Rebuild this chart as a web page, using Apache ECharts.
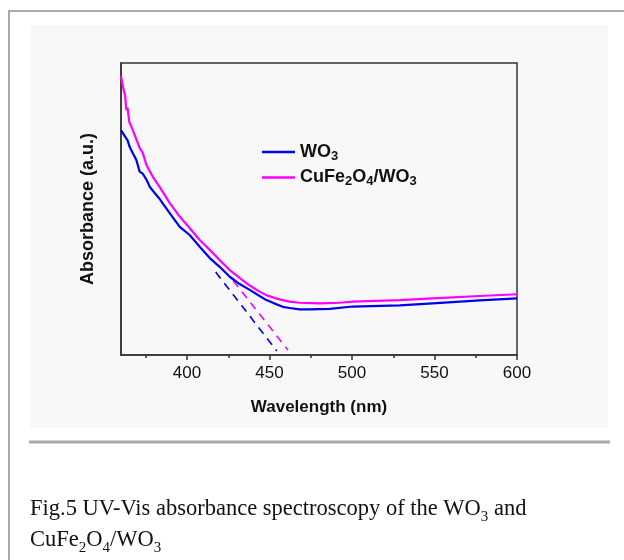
<!DOCTYPE html>
<html>
<head>
<meta charset="utf-8">
<script src="https://cdn.jsdelivr.net/npm/echarts@6/dist/echarts.min.js"></script>
<style>
  html, body { margin: 0; padding: 0; background: #ffffff; }
  #chart { width: 624px; height: 560px; }
</style>
</head>
<body>
<div id="chart"></div>
<script>
// UV-Vis absorbance spectra (arbitrary units) of WO3 and CuFe2O4/WO3
const wavelengthWO3 = [360, 361.2, 362.5, 364, 365.3, 367.1, 369.3, 371.3, 373.3, 375.6, 377.4, 380.4,
  383.5, 389.5, 395.6, 401.6, 407.7, 413.8, 419.8, 425.9, 431.9, 438, 444, 448.1, 453.2, 458,
  462.2, 468.3, 474.4, 480.4, 486.5, 500.4, 528.9, 548.9, 577.4, 600];
const absWO3 = [0.77, 0.765, 0.748, 0.735, 0.712, 0.692, 0.668, 0.628, 0.62, 0.599, 0.576, 0.555,
  0.534, 0.486, 0.439, 0.411, 0.371, 0.332, 0.302, 0.268, 0.243, 0.223, 0.202, 0.188, 0.176, 0.165,
  0.161, 0.156, 0.156, 0.157, 0.158, 0.166, 0.17, 0.177, 0.187, 0.194];

const wavelengthCF = [360, 361, 361.6, 362.5, 363.2, 364, 365, 365.9, 367.1, 368.3, 369.5, 371.3,
  373.2, 375.4, 377.4, 379.2, 383.5, 389.5, 395.6, 401.6, 407.7, 413.8, 419.8, 425.9, 431.9, 438,
  444, 448.1, 453.2, 458, 462.2, 468.3, 480.4, 492.5, 500.4, 528.9, 548.9, 577.4, 600];
const absCF = [0.955, 0.955, 0.908, 0.89, 0.839, 0.846, 0.798, 0.788, 0.771, 0.777, 0.736, 0.709,
  0.692, 0.651, 0.63, 0.611, 0.575, 0.521, 0.474, 0.435, 0.394, 0.36, 0.325, 0.291, 0.264, 0.238,
  0.217, 0.205, 0.195, 0.188, 0.183, 0.179, 0.177, 0.179, 0.183, 0.188, 0.194, 0.202, 0.208];

// linear extrapolations of the absorption edges
const edgeWO3X = [417.4, 454.4];
const edgeWO3Y = [0.284, 0.014];
const edgeCFX = [428, 461.2];
const edgeCFY = [0.254, 0.017];

const majorTicks = [400, 450, 500, 550, 600];
const minorTicks = [375, 425, 475, 525, 575];

const seriesNames = ['WO3', 'CuFe2O4/WO3'];

const zip = (xs, ys) => xs.map((x, i) => [x, ys[i]]);
const sansFont = '"Liberation Sans", Arial, sans-serif';
const serifFont = '"Liberation Serif", "Times New Roman", serif';
const axisColor = '#333333';

// turn digits into subscript tokens for chemical formulas
const toRich = (s) => s.replace(/(\d)/g, '{s|$1}');

const chart = echarts.init(document.getElementById('chart'), null, { renderer: 'canvas' });

chart.setOption({
  animation: false,
  backgroundColor: '#ffffff',
  graphic: [
    // figure panel
    { type: 'rect', z: -10, shape: { x: 30, y: 25, width: 578, height: 403 }, style: { fill: '#f8f8f8' }, silent: true },
    { type: 'line', z: -5, shape: { x1: 9, y1: 11, x2: 624, y2: 11 }, style: { stroke: '#a9a9a9', lineWidth: 2 } },
    { type: 'line', z: -5, shape: { x1: 9, y1: 10, x2: 9, y2: 560 }, style: { stroke: '#a9a9a9', lineWidth: 2 } },
    { type: 'line', z: -5, shape: { x1: 29, y1: 442, x2: 610, y2: 442 }, style: { stroke: '#a9a9a9', lineWidth: 3 } },
    // caption
    {
      type: 'text', left: 30, top: 494,
      style: {
        text: 'Fig.5 UV-Vis absorbance spectroscopy of the WO{s|3} and\nCuFe{s|2}O{s|4}/WO{s|3}',
        font: '22.5px ' + serifFont, fill: '#111111', lineHeight: 31,
        rich: { s: { fontSize: 15, fontFamily: serifFont, fill: '#111111', verticalAlign: 'bottom', padding: [9, 0, 0, 0] } }
      }
    }
  ],
  grid: {
    left: 121, right: 107, top: 63, bottom: 205,
    show: true, borderColor: axisColor, borderWidth: 1.5, backgroundColor: 'transparent'
  },
  legend: {
    data: seriesNames,
    orient: 'vertical',
    left: 257, top: 138,
    icon: 'rect',
    itemWidth: 33, itemHeight: 2.5, itemGap: 6,
    formatter: (name) => toRich(name),
    textStyle: {
      fontFamily: sansFont, fontSize: 18, fontWeight: 'bold', color: '#111111',
      rich: { s: { fontFamily: sansFont, fontSize: 13, fontWeight: 'bold', color: '#111111', verticalAlign: 'bottom', padding: [8, 0, 0, 0] } }
    }
  },
  xAxis: [
    {
      type: 'value', min: 360, max: 600,
      name: 'Wavelength (nm)', nameLocation: 'middle', nameGap: 44,
      nameTextStyle: { fontFamily: sansFont, fontSize: 17, fontWeight: 'bold', color: '#111111' },
      axisLine: { lineStyle: { color: axisColor, width: 1.5 } },
      axisTick: { show: true, inside: false, length: 5, customValues: majorTicks, lineStyle: { color: axisColor, width: 1.5 } },
      axisLabel: { customValues: majorTicks, margin: 10, fontFamily: sansFont, fontSize: 17, color: '#111111' },
      splitLine: { show: false }
    },
    {
      type: 'value', min: 360, max: 600, position: 'bottom', gridIndex: 0,
      axisLine: { show: false },
      axisTick: { show: true, inside: false, length: 3, customValues: minorTicks, lineStyle: { color: axisColor, width: 1.5 } },
      axisLabel: { show: false },
      splitLine: { show: false }
    }
  ],
  yAxis: {
    type: 'value', min: 0, max: 1,
    name: 'Absorbance (a.u.)', nameLocation: 'middle', nameGap: 24, nameRotate: 90,
    nameTextStyle: { fontFamily: sansFont, fontSize: 18, fontWeight: 'bold', color: '#111111' },
    axisLine: { show: true, lineStyle: { color: axisColor, width: 1.5 } },
    axisTick: { show: false },
    axisLabel: { show: false },
    splitLine: { show: false }
  },
  series: [
    {
      name: 'CuFe2O4/WO3', type: 'line', symbol: 'none', data: zip(wavelengthCF, absCF),
      lineStyle: { color: '#ff00ff', width: 2.2 }, itemStyle: { color: '#ff00ff' }, z: 2
    },
    {
      name: 'WO3', type: 'line', symbol: 'none', data: zip(wavelengthWO3, absWO3),
      lineStyle: { color: '#0000ee', width: 2.2 }, itemStyle: { color: '#0000ee' }, z: 3
    },
    {
      name: 'WO3 edge', type: 'line', symbol: 'none', data: zip(edgeWO3X, edgeWO3Y),
      lineStyle: { color: '#0000ee', width: 1.6, type: [8, 6] }, z: 3
    },
    {
      name: 'CuFe2O4/WO3 edge', type: 'line', symbol: 'none', data: zip(edgeCFX, edgeCFY),
      lineStyle: { color: '#ff00ff', width: 1.6, type: [8, 6] }, z: 2
    }
  ]
});
</script>
</body>
</html>
